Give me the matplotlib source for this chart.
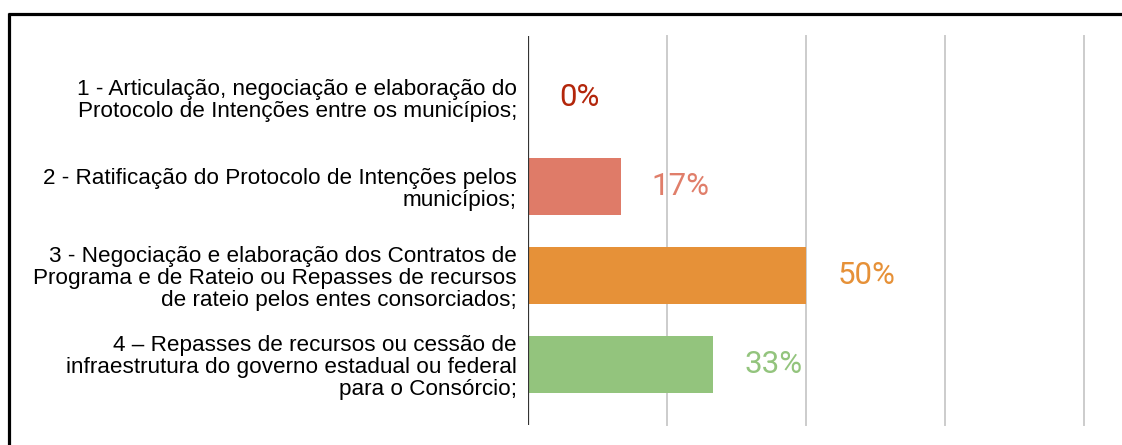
import matplotlib
matplotlib.use('Agg')
import matplotlib.pyplot as plt
from matplotlib.lines import Line2D

# Data
categories = [
    "1 - Articulação, negociação e elaboração do\nProtocolo de Intenções entre os municípios;",
    "2 - Ratificação do Protocolo de Intenções pelos\nmunicípios;",
    "3 - Negociação e elaboração dos Contratos de\nPrograma e de Rateio ou Repasses de recursos\nde rateio pelos entes consorciados;",
    "4 – Repasses de recursos ou cessão de\ninfraestrutura do governo estadual ou federal\npara o Consórcio;",
]
values = [0, 16.67, 50, 33.33]
value_labels = ["0%", "17%", "50%", "33%"]
bar_colors = ["#b7250b", "#df7b68", "#e69138", "#93c47d"]
text_colors = ["#b3260b", "#e07e6a", "#e69138", "#93c47d"]
grid_ticks = [25, 50, 75, 100]

W, H = 1122, 445
fig = plt.figure(figsize=(W / 100, H / 100), dpi=100)
fig.patch.set_facecolor('white')

# axes placement in pixels
x0, x1 = 528, 1084
y_top, y_bot = 36, 425
ax = fig.add_axes([x0 / W, 1 - y_bot / H, (x1 - x0) / W, (y_bot - y_top) / H])

pos = list(range(len(categories)))
ax.barh(pos, values, height=0.645, color=bar_colors, linewidth=0, zorder=2)
ax.set_xlim(0, 100)
ax.set_ylim(3.68, -0.69)

for x in grid_ticks:
    ax.axvline(x, color='#cccccc', lw=1.4, zorder=1, clip_on=False)
ax.axvline(0, color='#333333', lw=1.6, zorder=3)

for sp in ax.spines.values():
    sp.set_visible(False)
ax.set_xticks([])
ax.set_yticks(pos)
ax.set_yticklabels(categories, fontsize=16.2, family='Liberation Sans',
                   color='#000000', linespacing=1.07)
for lbl in ax.get_yticklabels():
    lbl.set_multialignment('right')
ax.tick_params(axis='y', length=0, pad=8)

for i, v in enumerate(values):
    ax.annotate(value_labels[i], xy=(v, i), xytext=(22.5, 0),
                textcoords='offset points', va='center', ha='left',
                fontsize=22.5, family='Roboto', color=text_colors[i])

# outer frame (cropped screenshot border)
fig.add_artist(Line2D([8 / W, 1], [1 - 13.5 / H, 1 - 13.5 / H],
                      transform=fig.transFigure, color='black', lw=2.3,
                      solid_capstyle='butt'))
fig.add_artist(Line2D([9 / W, 9 / W], [0, 1 - 12.5 / H],
                      transform=fig.transFigure, color='black', lw=2.3,
                      solid_capstyle='butt'))

fig.savefig('out.png', dpi=100, facecolor='white')
